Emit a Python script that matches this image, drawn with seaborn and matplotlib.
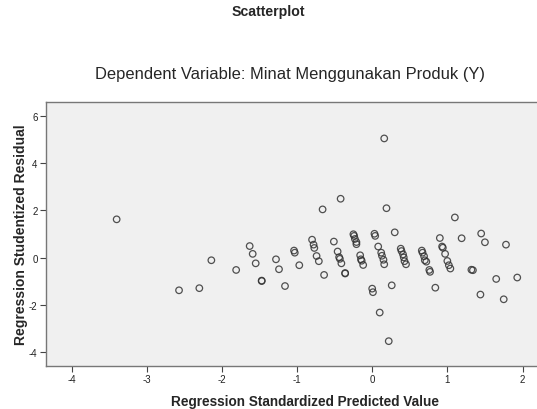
import matplotlib
matplotlib.use("Agg")
import matplotlib.pyplot as plt
import seaborn as sns
import pandas as pd

predicted = [
    -3.40, -2.57, -2.30, -2.14, -1.81, -1.63, -1.59, -1.55, -1.47, -1.47,
    -1.28, -1.24, -1.16, -1.04, -1.03, -0.97,
    -0.80, -0.78, -0.77, -0.74, -0.71, -0.64, -0.66, -0.42,
    -0.51, -0.46, -0.44, -0.43, -0.41, -0.36, -0.36,
    -0.25, -0.24, -0.23, -0.21, -0.21,
    -0.16, -0.15, -0.14, -0.12,
    0.03, 0.04, 0.08, 0.12, 0.13, 0.15, 0.16,
    0.00, 0.01, 0.10, 0.16, 0.19, 0.22, 0.26, 0.30,
    0.38, 0.39, 0.41, 0.42, 0.43, 0.45,
    0.66, 0.67, 0.69, 0.70, 0.72, 0.76, 0.77, 0.84,
    0.90, 0.93, 0.94, 0.97, 1.00, 1.02, 1.04, 1.10, 1.19,
    1.32, 1.34, 1.44, 1.45, 1.50, 1.65, 1.75, 1.78, 1.93,
]
residual = [
    1.62, -1.38, -1.29, -0.11, -0.52, 0.49, 0.16, -0.24, -0.97, -0.99,
    -0.07, -0.49, -1.20, 0.30, 0.21, -0.32,
    0.76, 0.55, 0.41, 0.07, -0.15, -0.73, 2.04, 2.49,
    0.68, 0.26, 0.02, -0.05, -0.24, -0.65, -0.67,
    0.99, 0.92, 0.79, 0.66, 0.57,
    0.10, -0.07, -0.13, -0.31,
    1.01, 0.92, 0.47, 0.21, 0.08, -0.09, -0.28,
    -1.31, -1.46, -2.32, 5.04, 2.09, -3.53, -1.17, 1.07,
    0.38, 0.28, 0.14, 0.01, -0.15, -0.28,
    0.30, 0.21, 0.06, -0.11, -0.17, -0.52, -0.60, -1.27,
    0.83, 0.47, 0.42, 0.16, -0.14, -0.32, -0.46, 1.70, 0.82,
    -0.51, -0.53, -1.56, 1.02, 0.65, -0.90, -1.76, 0.55, -0.84,
]

x_ticks = [-4, -3, -2, -1, 0, 1, 2]
y_ticks = [-4, -2, 0, 2, 4, 6]

df = pd.DataFrame({"pred": predicted, "resid": residual})

sns.set_style("white")
plt.rcParams["font.family"] = ["Liberation Sans", "DejaVu Sans"]

fig = plt.figure(figsize=(5.37, 4.10), dpi=100)
ax = fig.add_axes([46 / 537, 43 / 410, 1.05 - 46 / 537, 264 / 410])
ax.set_facecolor("#F0F0F0")

sns.scatterplot(data=df, x="pred", y="resid", ax=ax, marker="o",
                facecolor="none", edgecolor="#333333", linewidth=0.9,
                s=22, alpha=0.85, legend=False)

ax.set_xlim(-4.34, 2.55)
ax.set_ylim(-4.58, 6.58)
ax.set_xticks(x_ticks)
ax.set_yticks(y_ticks)
ax.set_xticklabels([str(t) for t in x_ticks])
ax.set_yticklabels([str(t) for t in y_ticks])
ax.tick_params(axis="both", direction="out", length=4, width=0.8,
               color="#444444", labelsize=7, labelcolor="#222222", pad=2)
ax.xaxis.set_ticks_position("bottom")
ax.yaxis.set_ticks_position("left")
for sp in ax.spines.values():
    sp.set_color("#777777")
    sp.set_linewidth(1.0)

ax.set_xlabel("Regression Standardized Predicted Value", fontsize=9.8,
              fontweight="bold", labelpad=7)
ax.set_ylabel("Regression Studentized Residual", fontsize=10,
              fontweight="bold", labelpad=1)

fig.text(268.5 / 537, 1 - 12 / 410, "Scatterplot", ha="center", va="center",
         fontsize=10.2, fontweight="bold")
fig.text(290 / 537, 1 - 75 / 410,
         "Dependent Variable: Minat Menggunakan Produk (Y)",
         ha="center", va="center", fontsize=11.9)

fig.savefig("out.png", dpi=100)
